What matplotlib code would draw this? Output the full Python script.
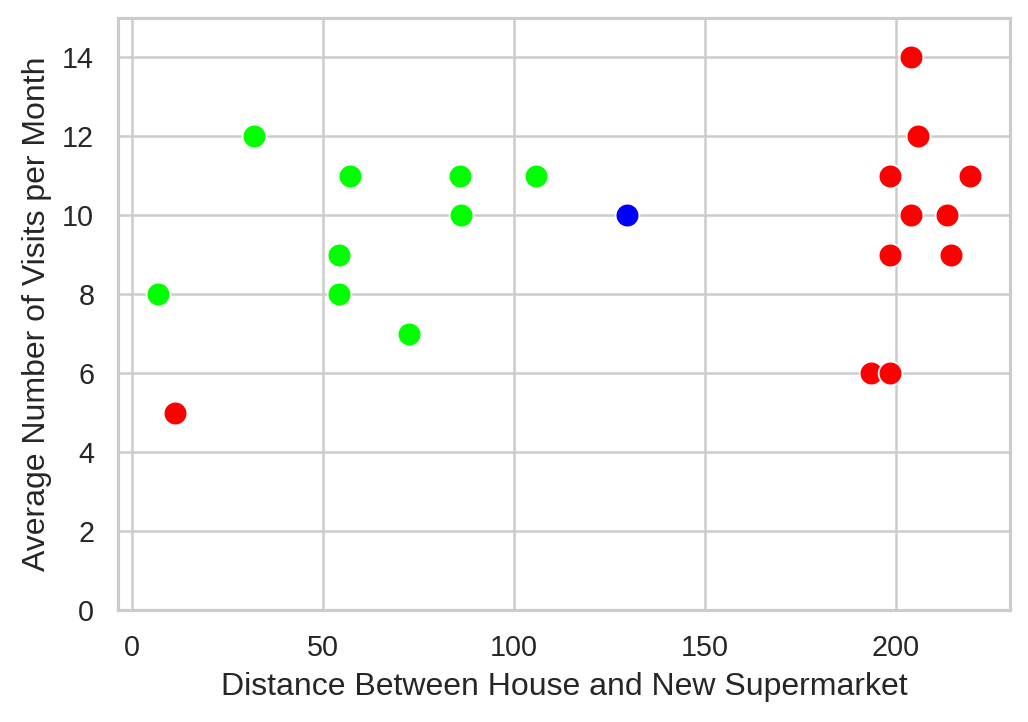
import matplotlib
matplotlib.use("Agg")
import matplotlib.pyplot as plt
import seaborn as sns

green_x = [6.9, 32.0, 57.1, 54.2, 54.2, 72.6, 85.9, 86.2, 105.8]
green_y = [8, 12, 11, 9, 8, 7, 11, 10, 11]
blue_x = [129.7]
blue_y = [10]
red_x = [11.2, 203.9, 205.9, 198.5, 219.3, 203.9, 213.3, 198.5, 214.4, 193.5, 198.5]
red_y = [5, 14, 12, 11, 11, 10, 10, 9, 9, 6, 6]

sns.set_theme(style="whitegrid")
plt.rcParams['font.family'] = ['Liberation Sans', 'DejaVu Sans']

dpi = 180
fig = plt.figure(figsize=(1028 / dpi, 722 / dpi), dpi=dpi)
ax = fig.add_axes([118 / 1028, 112 / 722, 892 / 1028, 592 / 722])

for xs, ys, c in [(green_x, green_y, '#00ff00'), (blue_x, blue_y, '#0000ff'), (red_x, red_y, '#ff0000')]:
    ax.scatter(xs, ys, s=90, c=c, edgecolors='white', linewidths=0.7, zorder=3)

ax.set_xlim(-3.7, 229.9)
ax.set_ylim(0, 15)
ax.set_xticks([0, 50, 100, 150, 200])
ax.set_yticks([0, 2, 4, 6, 8, 10, 12, 14])
ax.tick_params(labelsize=11.5, colors='#262626')
ax.set_xlabel('Distance Between House and New Supermarket', fontsize=12.8, color='#262626')
ax.set_ylabel('Average Number of Visits per Month', fontsize=12.8, color='#262626')

fig.savefig('out.png', dpi=dpi)
